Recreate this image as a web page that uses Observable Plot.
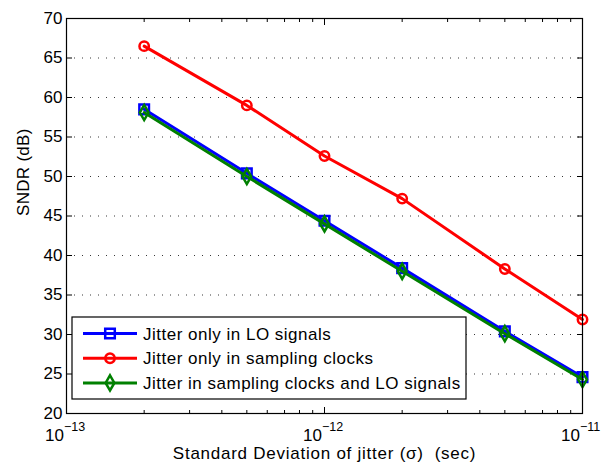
<!DOCTYPE html>
<html><head><meta charset="utf-8">
<script src="https://cdn.jsdelivr.net/npm/d3@7"></script>
<script src="https://cdn.jsdelivr.net/npm/@observablehq/plot@0.6"></script>
<style>
body{margin:0;background:#fff}
svg text{white-space:pre}
</style>
</head><body><div id="chart"></div>
<script>
const sigma = [2e-13, 5e-13, 1e-12, 2e-12, 5e-12, 1e-11];
const loOnly = [58.5, 50.4, 44.4, 38.4, 30.4, 24.6];
const clkOnly = [66.5, 59.0, 52.6, 47.2, 38.3, 31.9];
const both = [58.1, 50.0, 44.0, 38.0, 30.1, 24.3];
const seriesNames = ["Jitter only in LO signals", "Jitter only in sampling clocks", "Jitter in sampling clocks and LO signals"];
const seriesValues = [loOnly, clkOnly, both];
const seriesColors = ["#0000ff", "#ff0000", "#008000"];
const seriesSymbols = ["square", "circle", "diamond"];
const seriesR = [5.4, 4.7, 4.6];
const yTicks = [20, 25, 30, 35, 40, 45, 50, 55, 60, 65, 70];
const xMajor = [1e-13, 1e-12, 1e-11];
const xMinor = [2e-13, 3e-13, 4e-13, 5e-13, 6e-13, 7e-13, 8e-13, 9e-13, 2e-12, 3e-12, 4e-12, 5e-12, 6e-12, 7e-12, 8e-12, 9e-12];
const xExponents = ["\u221213", "\u221212", "\u221211"];
const xLabel = "Standard Deviation of jitter (\u03c3)  (sec)";
const yLabel = "SNDR (dB)";

const FONT = "'Liberation Sans', Arial, Helvetica, sans-serif";
const rowsOf = s => sigma.map((x, i) => ({sigma: x, value: seriesValues[s][i], series: seriesNames[s]}));

const seriesMarks = [];
for (const s of [0, 1, 2]) {
  const rows = rowsOf(s);
  seriesMarks.push(Plot.line(rows, {x: "sigma", y: "value", stroke: seriesColors[s], strokeWidth: 3}));
  seriesMarks.push(Plot.dot(rows, {x: "sigma", y: "value", stroke: seriesColors[s], strokeWidth: 2.5, fill: "none", symbol: seriesSymbols[s], r: seriesR[s]}));
}

const chart = Plot.plot({
  width: 603,
  height: 470,
  marginLeft: 66,
  marginRight: 21,
  marginTop: 18,
  marginBottom: 57,
  style: {fontFamily: FONT, fontSize: "17px", color: "#000", background: "#fff", overflow: "visible"},
  x: {type: "log", domain: [1e-13, 1e-11]},
  y: {domain: [20, 70]},
  marks: [
    Plot.gridY(yTicks.slice(1, -1), {stroke: "#222", strokeOpacity: 0.9, strokeDasharray: "1,7"}),
    Plot.axisY(yTicks, {anchor: "left", tickSize: -6, tickPadding: 10, label: null, fontSize: 17, stroke: "#000"}),
    Plot.axisY(yTicks, {anchor: "right", tickSize: -6, tickFormat: () => "", label: null, stroke: "#000"}),
    Plot.axisX(xMajor, {anchor: "bottom", tickSize: -6, tickFormat: () => "", label: null, stroke: "#000"}),
    Plot.axisX(xMinor, {anchor: "bottom", tickSize: -3, tickFormat: () => "", label: null, stroke: "#000"}),
    Plot.axisX(xMajor, {anchor: "top", tickSize: -6, tickFormat: () => "", label: null, stroke: "#000"}),
    Plot.axisX(xMinor, {anchor: "top", tickSize: -3, tickFormat: () => "", label: null, stroke: "#000"}),
    Plot.text(xMajor, {x: d => d, frameAnchor: "bottom", text: () => "10", textAnchor: "end", lineAnchor: "middle", dx: -2.5, dy: 22, fontSize: 17, fill: "#000"}),
    Plot.text(xMajor, {x: d => d, frameAnchor: "bottom", text: (d, i) => xExponents[i], textAnchor: "start", lineAnchor: "middle", dx: -2.5, dy: 13.5, fontSize: 12.5, fill: "#000"}),
    Plot.text([xLabel], {frameAnchor: "bottom", text: d => d, lineAnchor: "middle", dy: 40, fontSize: 17, fill: "#000"}),
    Plot.text([yLabel], {frameAnchor: "left", text: d => d, rotate: -90, lineAnchor: "middle", dx: -43, fontSize: 17, fill: "#000"}),
    ...seriesMarks,
    Plot.frame({stroke: "#000", strokeWidth: 1.2})
  ]
});
document.getElementById("chart").appendChild(chart);

const svg = d3.select(chart);
// wider glyph spacing like the reference rendering
svg.selectAll("text").filter(function() { return this.textContent === xLabel; }).attr("letter-spacing", "0.75px");
svg.selectAll("text").filter(function() { return this.textContent === yLabel; }).attr("letter-spacing", "0.3px");

// Legend box (MATLAB style), drawn inside the plot svg
const lg = svg.append("g").attr("transform", "translate(72,317)").attr("text-anchor", "start");
lg.append("rect").attr("width", 394).attr("height", 82).attr("fill", "#fff").attr("stroke", "#000").attr("stroke-width", 1.2);
const symType = {square: d3.symbolSquare, circle: d3.symbolCircle, diamond: d3.symbolDiamond};
seriesNames.forEach((name, s) => {
  const cy = 16.5 + s * 24.7;
  lg.append("line").attr("x1", 11).attr("x2", 65).attr("y1", cy).attr("y2", cy)
    .attr("stroke", seriesColors[s]).attr("stroke-width", 3);
  lg.append("path").attr("transform", `translate(38,${cy})`)
    .attr("d", d3.symbol().type(symType[seriesSymbols[s]]).size(seriesR[s] * seriesR[s] * Math.PI)())
    .attr("fill", "none").attr("stroke", seriesColors[s]).attr("stroke-width", 2.5);
  lg.append("text").attr("x", 71).attr("y", cy).attr("dy", "0.36em").attr("text-anchor", "start")
    .attr("font-size", 17).attr("letter-spacing", "0.5px").attr("font-family", FONT).attr("fill", "#000").text(name);
});
</script>
</body></html>
